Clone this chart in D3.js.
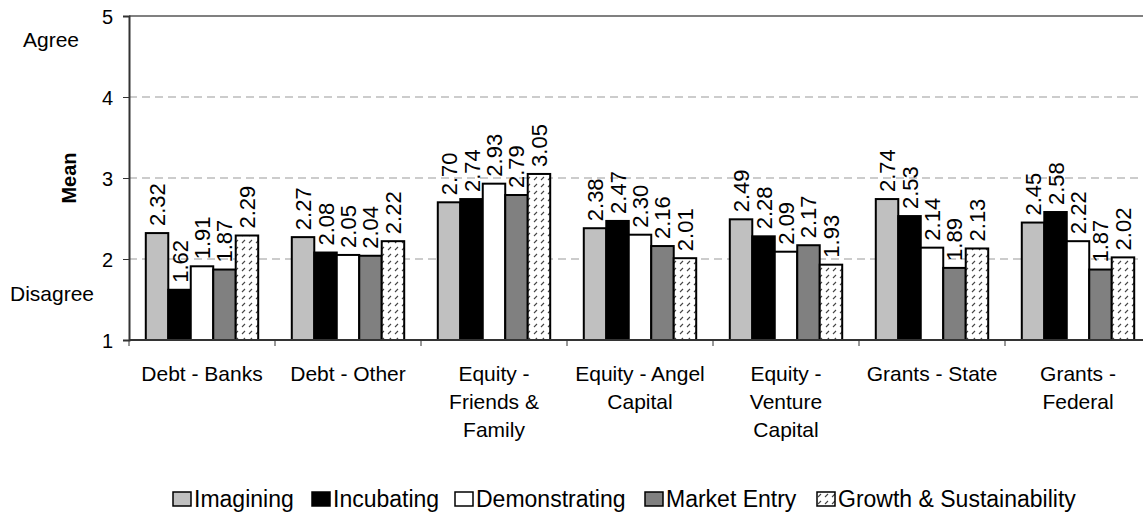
<!DOCTYPE html>
<html>
<head>
<meta charset="utf-8">
<script src="https://cdn.jsdelivr.net/npm/d3@7"></script>
<style>
body { margin: 0; background: #fff; }
text { font-family: "Liberation Sans", Arial, sans-serif; fill: #000; }
</style>
</head>
<body>
<script>
// chart data
var categories = ["Debt - Banks", "Debt - Other", "Equity - Friends & Family", "Equity - Angel Capital", "Equity - Venture Capital", "Grants - State", "Grants - Federal"];
var catLines = [["Debt - Banks"], ["Debt - Other"], ["Equity -", "Friends &", "Family"], ["Equity - Angel", "Capital"], ["Equity -", "Venture", "Capital"], ["Grants - State"], ["Grants -", "Federal"]];
var seriesNames = ["Imagining", "Incubating", "Demonstrating", "Market Entry", "Growth & Sustainability"];
var imagining = [2.32, 2.27, 2.70, 2.38, 2.49, 2.74, 2.45];
var incubating = [1.62, 2.08, 2.74, 2.47, 2.28, 2.53, 2.58];
var demonstrating = [1.91, 2.05, 2.93, 2.30, 2.09, 2.14, 2.22];
var marketEntry = [1.87, 2.04, 2.79, 2.16, 2.17, 1.89, 1.87];
var growth = [2.29, 2.22, 3.05, 2.01, 1.93, 2.13, 2.02];
var yTicks = [1, 2, 3, 4, 5];

var seriesValues = [imagining, incubating, demonstrating, marketEntry, growth];
var fills = ["#c0c0c0", "#000000", "#ffffff", "#808080", "url(#hatch)"];

var w = 1143, h = 514;
var plotLeft = 129, plotTop = 16, plotW = 1022, plotH = 324;

var svg = d3.select("body").append("svg")
    .attr("width", w)
    .attr("height", h);

// hatch pattern for last series
var pat = svg.append("defs").append("pattern")
    .attr("id", "hatch")
    .attr("patternUnits", "userSpaceOnUse")
    .attr("width", 7)
    .attr("height", 7);
pat.append("rect").attr("width", 7).attr("height", 7).attr("fill", "#fff");
pat.append("path")
    .attr("d", "M1,5 L4,2")
    .attr("stroke", "#444")
    .attr("stroke-width", 1.1);

var x0 = d3.scaleBand().domain(categories).range([plotLeft, plotLeft + plotW]);
var x1 = d3.scaleBand().domain(seriesNames).range([x0.bandwidth() * 0.115, x0.bandwidth() * 0.885]);
var y = d3.scaleLinear().domain([1, 5]).range([plotTop + plotH, plotTop]);

// gridlines
svg.selectAll(".grid").data([2, 3, 4]).enter().append("line")
    .attr("x1", plotLeft).attr("x2", plotLeft + plotW)
    .attr("y1", function(d){ return y(d); }).attr("y2", function(d){ return y(d); })
    .attr("stroke", "#999").attr("stroke-dasharray", "8,5");

// top border
svg.append("line")
    .attr("x1", plotLeft).attr("x2", plotLeft + plotW)
    .attr("y1", y(5)).attr("y2", y(5))
    .attr("stroke", "#808080").attr("stroke-width", 2);

// bars
var groups = svg.selectAll(".cat").data(categories).enter().append("g")
    .attr("transform", function(d){ return "translate(" + x0(d) + ",0)"; });

groups.each(function(c, ci){
    var g = d3.select(this);
    seriesNames.forEach(function(s, si){
        var v = seriesValues[si][ci];
        g.append("rect")
            .attr("x", x1(s))
            .attr("y", y(v))
            .attr("width", x1.bandwidth())
            .attr("height", y(1) - y(v))
            .attr("fill", fills[si])
            .attr("stroke", "#000")
            .attr("stroke-width", 2);
        g.append("text")
            .attr("transform", "translate(" + (x1(s) + x1.bandwidth() / 2 + 8) + "," + (y(v) - 7) + ") rotate(-90)")
            .attr("font-size", 22)
            .text(v.toFixed(2));
    });
});

// y axis
var yAxis = svg.append("g")
    .attr("transform", "translate(" + plotLeft + ",0)")
    .call(d3.axisLeft(y).tickValues(yTicks).tickSize(6).tickFormat(d3.format("d")));
yAxis.select(".domain").attr("stroke", "#333").attr("stroke-width", 2);
yAxis.selectAll(".tick line").attr("stroke", "#333");
yAxis.selectAll(".tick text").attr("font-size", 20).attr("font-family", "Liberation Sans, Arial, sans-serif").attr("x", -16).attr("dy", "0.36em").attr("fill", "#000");

// x axis line + ticks between categories
var tickPos = d3.range(8).map(function(i){ return plotLeft + i * x0.step(); });
svg.append("line")
    .attr("x1", plotLeft).attr("x2", plotLeft + plotW)
    .attr("y1", y(1)).attr("y2", y(1))
    .attr("stroke", "#333").attr("stroke-width", 2);
svg.selectAll(".xtick").data(tickPos).enter().append("line")
    .attr("x1", function(d){ return d; }).attr("x2", function(d){ return d; })
    .attr("y1", y(1)).attr("y2", y(1) + 6)
    .attr("stroke", "#333");

// category labels
svg.selectAll(".catlabel").data(categories).enter().append("text")
    .attr("text-anchor", "middle")
    .attr("font-size", 21)
    .attr("y", y(1) + 41)
    .each(function(d, i){
        var t = d3.select(this);
        catLines[i].forEach(function(line, li){
            t.append("tspan").attr("x", x0(d) + x0.bandwidth() / 2).attr("dy", li === 0 ? 0 : 28).text(line);
        });
    });

// y labels
svg.append("text").attr("x", 23).attr("y", 47).attr("font-size", 21).text("Agree");
svg.append("text").attr("x", 10).attr("y", 301).attr("font-size", 21).text("Disagree");
svg.append("text")
    .attr("transform", "translate(76,178) rotate(-90)")
    .attr("text-anchor", "middle")
    .attr("font-size", 20)
    .attr("font-weight", "bold")
    .text("Mean");

// legend
var legX = [173, 312, 455, 645, 817];
var legend = svg.selectAll(".leg").data(seriesNames).enter().append("g")
    .attr("transform", function(d, i){ return "translate(" + legX[i] + ",492)"; });
legend.append("rect")
    .attr("width", 18).attr("height", 14)
    .attr("fill", function(d, i){ return fills[i]; })
    .attr("stroke", "#000").attr("stroke-width", 1.5);
legend.append("text")
    .attr("x", 21).attr("y", 15)
    .attr("font-size", 23)
    .text(function(d){ return d; });
</script>
</body>
</html>
